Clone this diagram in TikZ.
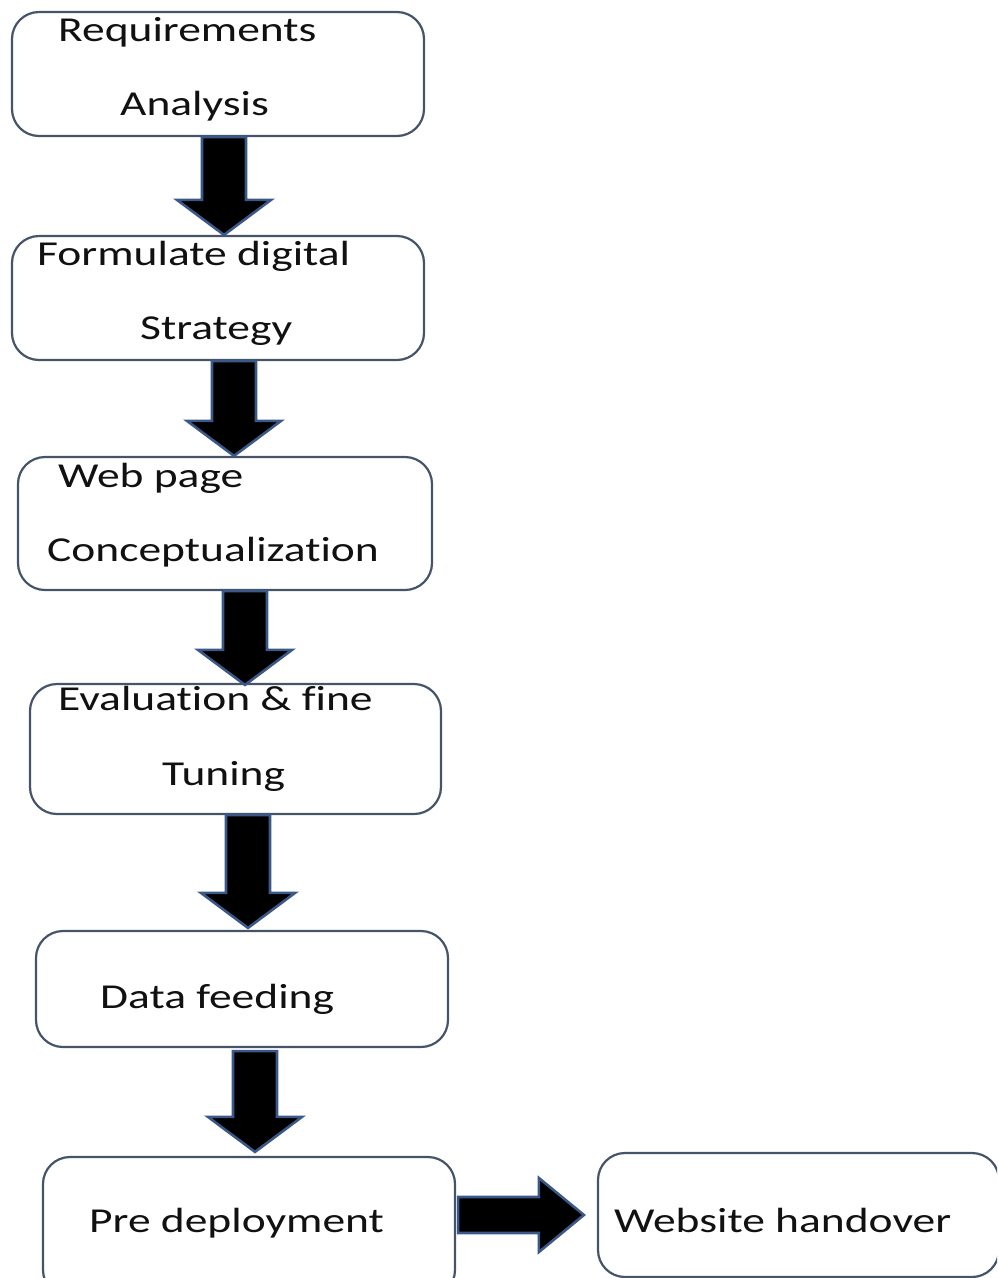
\documentclass[tikz,border=0pt]{standalone}
\usepackage{fontspec}
\setmainfont{Carlito}[FakeStretch=1.3, Ligatures=NoCommon]
\usetikzlibrary{calc}
\definecolor{boxline}{HTML}{46546A}
\definecolor{arrowline}{HTML}{3A5888}
\definecolor{ink}{HTML}{111111}
\tikzset{
  stepbox/.style={draw=boxline, line width=2.2pt, rounded corners=27pt,
    rectangle, inner sep=0pt, fill=white},
  label/.style={anchor=base west, inner sep=0pt, text=ink,
    font=\fontsize{35}{35}\selectfont},
  blockarrow/.style={fill=black, draw=arrowline, line width=2.6pt, line join=miter},
  % vertical block arrow: shaft from the start point down to the target's y
  vblock/.style={blockarrow, to path={
    let \p1=(\tikztostart), \p2=(\tikztotarget) in
    (\x1-22pt,\y1) -- (\x1+22pt,\y1) -- (\x1+22pt,\y2+35pt)
    -- (\x1+47pt,\y2+35pt) -- (\x1,\y2) -- (\x1-47pt,\y2+35pt)
    -- (\x1-22pt,\y2+35pt) -- cycle}},
  % horizontal block arrow pointing right
  hblock/.style={blockarrow, to path={
    let \p1=(\tikztostart), \p2=(\tikztotarget) in
    (\x1,\y1+18pt) -- (\x2-45pt,\y1+18pt) -- (\x2-45pt,\y1+37pt)
    -- (\x2,\y1) -- (\x2-45pt,\y1-37pt) -- (\x2-45pt,\y1-18pt)
    -- (\x1,\y1-18pt) -- cycle}}
}
\begin{document}
\begin{tikzpicture}[x=1pt,y=-1pt]
\useasboundingbox (0,0) rectangle (997,1278);
\clip (0,0) rectangle (997,1278);

% process boxes
\node[stepbox, minimum width=412pt, minimum height=124pt] (req)   at (218,74) {};
\node[stepbox, minimum width=412pt, minimum height=124pt] (strat) at (218,298) {};
\node[stepbox, minimum width=414pt, minimum height=133pt] (web)   at (225,523.5) {};
\node[stepbox, minimum width=411pt, minimum height=130pt] (eval)  at (235.5,749) {};
\node[stepbox, minimum width=412pt, minimum height=116pt] (data)  at (242,989) {};
\node[stepbox, minimum width=412pt, minimum height=140pt] (pre)   at (249,1227) {};
\node[stepbox, minimum width=401pt, minimum height=124pt] (hand)  at (798.5,1215) {};

% box texts
\node[label] (t1a) at (58,41)   {Requirements};
\node[label] (t1b) at (120,115) {Analysis};
\node[label] (t2a) at (37,265)  {Formulate digital};
\node[label] (t2b) at (140,339) {Strategy};
\node[label] (t3a) at (58,487)  {Web page};
\node[label] (t3b) at (47,561)  {Conceptualization};
\node[label] (t4a) at (58,710)  {Evaluation \& fine};
\node[label] (t4b) at (162,785) {Tuning};
\node[label] (t5)  at (100,1008) {Data feeding};
\node[label] (t6)  at (89,1232) {Pre deployment};
\node[label] (t7)  at (614,1232) {Website handover};

% block arrows between the steps
\draw[vblock] ([xshift=6pt]req.south)    to (strat.north);
\draw[vblock] ([xshift=16pt]strat.south) to (web.north);
\draw[vblock] ([xshift=20pt]web.south)   to ([yshift=-2pt]eval.north);
\draw[vblock] ([xshift=12.5pt]eval.south) to ([yshift=2pt]data.north);
\draw[vblock] ([xshift=13pt,yshift=-3pt]data.south) to ([yshift=4pt]pre.north);
\draw[hblock] ([xshift=2pt,yshift=12pt]pre.east) to ([xshift=-13pt]hand.west);
\end{tikzpicture}
\end{document}
